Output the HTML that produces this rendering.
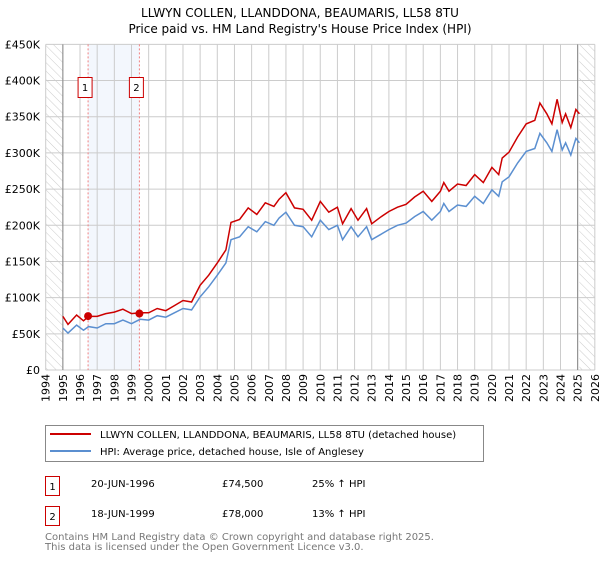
<!DOCTYPE html>
<html><head><meta charset="utf-8"><style>
body{margin:0;background:#fff;font-family:"DejaVu Sans","Liberation Sans",sans-serif;}
svg text{font-family:"DejaVu Sans","Liberation Sans",sans-serif;}
</style></head><body>
<svg id="chart" width="600" height="560" xmlns="http://www.w3.org/2000/svg">
<defs><pattern id="hatch" width="6" height="6" patternUnits="userSpaceOnUse" patternTransform="rotate(-45)"><line x1="0" y1="0" x2="0" y2="6" stroke="#ccc" stroke-width="1"/></pattern></defs>
<text x="300" y="17" font-size="12" text-anchor="middle">LLWYN COLLEN, LLANDDONA, BEAUMARIS, LL58 8TU</text>
<text x="300" y="33" font-size="12" text-anchor="middle">Price paid vs. HM Land Registry's House Price Index (HPI)</text>
<g id="grid"></g><g id="marks"></g><g id="axes"></g>
<g>
<rect x="45.5" y="425.5" width="438" height="36" fill="#fff" stroke="#888"/>
<line x1="50" y1="434" x2="91" y2="434" stroke="#cc0000" stroke-width="2"/>
<text x="100" y="438" font-size="10">LLWYN COLLEN, LLANDDONA, BEAUMARIS, LL58 8TU (detached house)</text>
<line x1="50" y1="451" x2="91" y2="451" stroke="#5b8fd0" stroke-width="2"/>
<text x="100" y="455" font-size="10">HPI: Average price, detached house, Isle of Anglesey</text>
</g>
<g font-size="10">
<rect x="45.5" y="476.5" width="14" height="19" fill="#fff" stroke="#cc0000"/><text x="52.5" y="490" text-anchor="middle">1</text>
<text x="91" y="487">20-JUN-1996</text><text x="222" y="487">£74,500</text><text x="312" y="487">25% ↑ HPI</text>
<rect x="45.5" y="506.5" width="14" height="19" fill="#fff" stroke="#cc0000"/><text x="52.5" y="520" text-anchor="middle">2</text>
<text x="91" y="517">18-JUN-1999</text><text x="222" y="517">£78,000</text><text x="312" y="517">13% ↑ HPI</text>
</g>
<text x="45" y="540" font-size="10" fill="#777">Contains HM Land Registry data © Crown copyright and database right 2025.</text>
<text x="45" y="550" font-size="10" fill="#777">This data is licensed under the Open Government Licence v3.0.</text>
</svg>
<script>
const hpiYears=[1995,1995.3,1995.8,1996.2,1996.5,1997,1997.5,1998,1998.5,1999,1999.5,2000,2000.5,2001,2001.5,2002,2002.5,2003,2003.5,2004,2004.5,2004.8,2005.3,2005.8,2006.3,2006.8,2007.3,2007.6,2008,2008.5,2009,2009.5,2010,2010.5,2011,2011.3,2011.8,2012.2,2012.7,2013,2013.5,2014,2014.5,2015,2015.5,2016,2016.5,2017,2017.2,2017.5,2018,2018.5,2019,2019.5,2020,2020.4,2020.6,2021,2021.5,2022,2022.5,2022.8,2023.2,2023.5,2023.8,2024.1,2024.3,2024.6,2024.9,2025.1];
const hpiValues=[58,51,62,55,60,58,64,64,69,64,70,69,75,73,79,85,83,101,115,131,148,180,184,198,191,205,200,210,218,200,198,184,207,194,200,180,198,184,198,180,187,194,200,203,212,219,207,219,230,219,228,226,240,230,249,240,260,267,286,302,306,327,314,302,332,304,314,297,320,314];
const redValues=[74,63,76,68,74,74,78,80,84,78,79,79,85,82,89,96,94,117,131,148,166,204,208,224,215,231,226,236,245,224,222,207,233,218,225,202,223,207,223,202,211,219,225,229,239,247,233,247,259,247,257,255,270,259,280,270,293,301,322,340,345,369,354,340,374,342,354,335,360,354];
const saleYears=[1996.47,1999.46];
const salePrices=[74.5,78];
const saleLabels=["1","2"];
const yTicks=[0,50,100,150,200,250,300,350,400,450];
const yTickLabels=["£0","£50K","£100K","£150K","£200K","£250K","£300K","£350K","£400K","£450K"];
const xTicks=[1994,1995,1996,1997,1998,1999,2000,2001,2002,2003,2004,2005,2006,2007,2008,2009,2010,2011,2012,2013,2014,2015,2016,2017,2018,2019,2020,2021,2022,2023,2024,2025,2026];
const NS="http://www.w3.org/2000/svg";
const X=y=>45.7+(y-1994)*17.16;
const Y=v=>370-v*0.7237;
function mk(tag,attrs,parent){const e=document.createElementNS(NS,tag);for(const k in attrs)e.setAttribute(k,attrs[k]);parent.appendChild(e);return e;}
const grid=document.getElementById('grid'),marks=document.getElementById('marks'),axes=document.getElementById('axes');
let r=mk('rect',{x:X(1994),y:Y(450),width:X(1995)-X(1994),height:Y(0)-Y(450),fill:'url(#hatch)'},grid);

r=mk('rect',{x:X(2025.1),y:Y(450),width:X(2026)-X(2025.1),height:Y(0)-Y(450),fill:'url(#hatch)'},grid);

r=mk('rect',{x:X(saleYears[0]),y:Y(450),width:X(saleYears[1])-X(saleYears[0]),height:Y(0)-Y(450),fill:'#eef3fc',opacity:0.7},grid);

yTicks.forEach((v,i)=>{
 const l=mk('line',{x1:X(1994),x2:X(2026),y1:Y(v),y2:Y(v),stroke:'#ccc'},grid);
 
 const t=mk('text',{x:40,y:Y(v)+4,'font-size':11,'text-anchor':'end'},axes);t.textContent=yTickLabels[i];
 
});
xTicks.forEach(yr=>{
 const l=mk('line',{x1:X(yr),x2:X(yr),y1:Y(450),y2:Y(0),stroke:'#ccc'},grid);
 
 const t=mk('text',{x:0,y:0,'font-size':11,'text-anchor':'end',transform:`translate(${X(yr)+4},374) rotate(-90)`},axes);t.textContent=yr;
 
});
[1995,2025].forEach(yr=>{const l=mk('line',{x1:X(yr),x2:X(yr),y1:Y(450),y2:Y(0),stroke:'#888'},grid);
 });
saleYears.forEach((yr,i)=>{
 const l=mk('line',{x1:X(yr),x2:X(yr),y1:Y(450),y2:Y(0),stroke:'#f08080','stroke-dasharray':'2,2'},grid);
 
 const g=mk('g',{},marks);
 mk('rect',{x:X(yr)-10,y:77.5,width:14,height:20,fill:'#fff',stroke:'#cc0000'},g);
 const t=mk('text',{x:X(yr)-3,y:91,'font-size':10,'text-anchor':'middle'},g);t.textContent=saleLabels[i];
});
const pts=(vals)=>hpiYears.map((y,i)=>X(y).toFixed(1)+','+Y(vals[i]).toFixed(1)).join(' ');
let p=mk('polyline',{points:pts(hpiValues),fill:'none',stroke:'#5b8fd0','stroke-width':1.5},marks);

p=mk('polyline',{points:pts(redValues),fill:'none',stroke:'#cc0000','stroke-width':1.5},marks);

saleYears.forEach((yr,i)=>{const c=mk('circle',{cx:X(yr),cy:Y(salePrices[i]),r:4,fill:'#cc0000'},marks);
 });
</script>
</body></html>
